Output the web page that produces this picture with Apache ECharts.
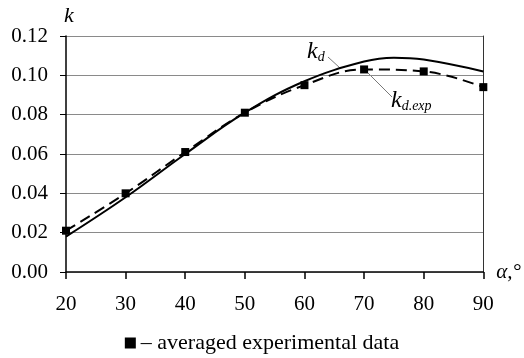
<!DOCTYPE html>
<html>
<head>
<meta charset="utf-8">
<script src="https://cdn.jsdelivr.net/npm/echarts@6/dist/echarts.min.js"></script>
<style>
  html, body { margin: 0; padding: 0; background: #fff; }
  #chart { width: 524px; height: 358px; }
</style>
</head>
<body>
<div id="chart"></div>
<script>
// angle, degrees
const alphaTicks = [20, 30, 40, 50, 60, 70, 80, 90];
// computed k_d curve
const kdAlpha = [20, 30, 40, 50, 60, 70, 75, 80, 90];
const kdValues = [0.018, 0.038, 0.060, 0.081, 0.097, 0.107, 0.109, 0.108, 0.102];
// averaged experimental data
const expAlpha = [20, 30, 40, 50, 60, 70, 80, 90];
const expValues = [0.021, 0.040, 0.061, 0.081, 0.095, 0.103, 0.102, 0.094];

const FONT = 'Liberation Serif';

const chart = echarts.init(document.getElementById('chart'));

const option = {
  animation: false,
  grid: { left: 66, right: 39, top: 36, bottom: 86 },
  legend: {
    data: ['kdexp'],
    bottom: -1,
    left: 'center',
    icon: 'rect',
    itemWidth: 11,
    itemHeight: 11,
    itemGap: 7,
    formatter: () => '– averaged experimental data',
    textStyle: { fontFamily: FONT, fontSize: 22, color: '#000' }
  },
  xAxis: [
    {
      type: 'value',
      min: 20, max: 90, interval: 10,
      name: 'α,°',
      nameLocation: 'end',
      nameGap: 13,
      nameTextStyle: { fontFamily: FONT, fontSize: 21, fontStyle: 'italic', color: '#000' },
      axisLine: { lineStyle: { color: '#000', width: 1.5 } },
      axisTick: { show: true, inside: false, length: 7, lineStyle: { color: '#000', width: 1.5 } },
      axisLabel: { margin: 22, fontFamily: FONT, fontSize: 21, color: '#000' },
      splitLine: { show: false }
    },
    {
      type: 'value', position: 'top',
      min: 20, max: 90,
      axisLine: { show: true, lineStyle: { color: '#333', width: 1 } },
      axisTick: { show: false }, axisLabel: { show: false }, splitLine: { show: false }
    }
  ],
  yAxis: [
    {
      type: 'value',
      min: 0, max: 0.12, interval: 0.02,
      name: 'k',
      nameLocation: 'end',
      nameGap: 9,
      nameTextStyle: { fontFamily: FONT, fontSize: 22, fontStyle: 'italic', color: '#000', padding: [0, 0, 0, 6] },
      axisLine: { show: true, lineStyle: { color: '#000', width: 1.5 } },
      axisTick: { show: true, inside: false, length: 6, lineStyle: { color: '#000', width: 1 } },
      axisLabel: { margin: 18, fontFamily: FONT, fontSize: 21, color: '#000', formatter: v => v.toFixed(2) },
      splitLine: { show: true, lineStyle: { color: '#8a8a8a', width: 1 } }
    },
    {
      type: 'value', position: 'right',
      min: 0, max: 0.12,
      axisLine: { show: true, lineStyle: { color: '#333', width: 1 } },
      axisTick: { show: false }, axisLabel: { show: false }, splitLine: { show: false }
    }
  ],
  series: [
    {
      name: 'kd',
      type: 'line',
      smooth: 0.4,
      showSymbol: false,
      data: kdAlpha.map((a, i) => [a, kdValues[i]]),
      lineStyle: { color: '#000', width: 2 },
      itemStyle: { color: '#000' },
      z: 3
    },
    {
      name: 'kdexp',
      type: 'line',
      smooth: 0.4,
      symbol: 'rect',
      symbolSize: 8,
      data: expAlpha.map((a, i) => [a, expValues[i]]),
      lineStyle: { color: '#000', width: 2, type: [11, 6] },
      itemStyle: { color: '#000' },
      z: 4
    }
  ],
  graphic: [
    {
      type: 'text', left: 307, top: 40,
      style: {
        text: '{k|k}{s|d}',
        rich: {
          k: { fontFamily: FONT, fontSize: 24, fontStyle: 'italic', fill: '#000' },
          s: { fontFamily: FONT, fontSize: 14, fontStyle: 'italic', fill: '#000', padding: [10, 0, 0, 0] }
        }
      }
    },
    {
      type: 'line',
      shape: { x1: 328, y1: 57, x2: 340, y2: 68 },
      style: { stroke: '#555', lineWidth: 0.8 }
    },
    {
      type: 'text', left: 391, top: 89,
      style: {
        text: '{k|k}{s|d.exp}',
        rich: {
          k: { fontFamily: FONT, fontSize: 24, fontStyle: 'italic', fill: '#000' },
          s: { fontFamily: FONT, fontSize: 14, fontStyle: 'italic', fill: '#000', padding: [10, 0, 0, 0] }
        }
      }
    },
    {
      type: 'line',
      shape: { x1: 366, y1: 71, x2: 392, y2: 97 },
      style: { stroke: '#555', lineWidth: 0.8 }
    }
  ]
};

chart.setOption(option);
</script>
</body>
</html>
